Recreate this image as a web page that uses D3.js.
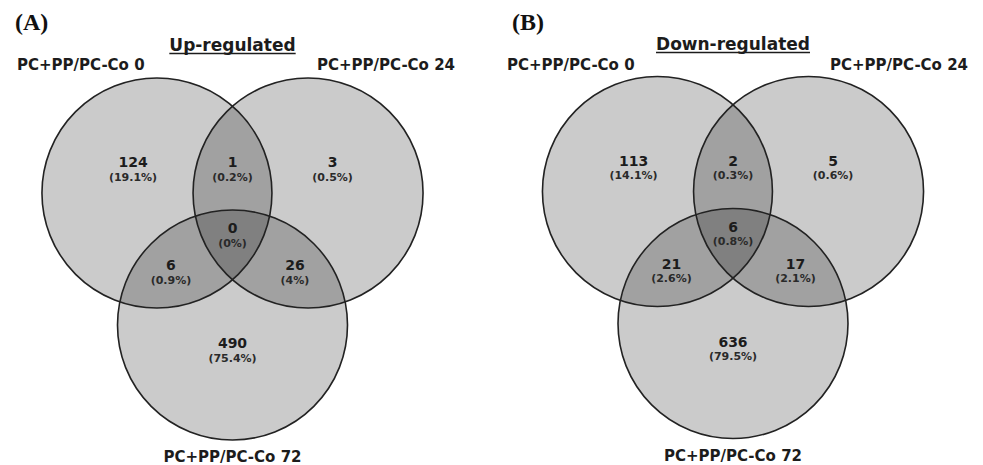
<!DOCTYPE html>
<html>
<head>
<meta charset="utf-8">
<script src="https://cdn.jsdelivr.net/npm/d3@7"></script>
<style>
  html, body { margin: 0; padding: 0; background: #fff; }
  svg { display: block; }
</style>
</head>
<body>
<svg id="chart" width="983" height="465"></svg>
<script>
// ---------------- data ----------------
const setNames = ["PC+PP/PC-Co 0", "PC+PP/PC-Co 24", "PC+PP/PC-Co 72"];
const panelLetters = ["(A)", "(B)"];
const panelTitles = ["Up-regulated", "Down-regulated"];
// regions: only0, only1, only2, 0&1, 0&2, 1&2, 0&1&2
const regionKeys = ["0", "1", "2", "0&1", "0&2", "1&2", "0&1&2"];
const upCounts = [124, 3, 490, 1, 6, 26, 0];
const downCounts = [113, 5, 636, 2, 21, 17, 6];

// ---------------- layout (unit = circle radius) ----------------
const circleUnits = [[-0.657, 0], [0.657, 0], [0, 1.148]];
const regionUnits = {
  "0": [-0.865, -0.222], "1": [0.87, -0.222], "2": [0, 1.348],
  "0&1": [0, -0.226], "0&2": [-0.535, 0.67], "1&2": [0.543, 0.67],
  "0&1&2": [0, 0.35]
};
const panels = [
  { ox: 232.5, oy: 193, r: 115, counts: upCounts,
    letterX: 15, titleY: 51, nameX: [17, 317], nameY: 70, bottomY: 462 },
  { ox: 733, oy: 191.5, r: 115, counts: downCounts,
    letterX: 512, titleY: 50, nameX: [507, 830], nameY: 70, bottomY: 461 }
];

const svg = d3.select("#chart");
const fmt = d3.format(".1~f");
const ink = "#1c1c1c";

panels.forEach((p, i) => {
  const x = d3.scaleLinear().domain([-1, 1]).range([p.ox - p.r, p.ox + p.r]);
  const y = d3.scaleLinear().domain([-1, 1]).range([p.oy - p.r, p.oy + p.r]);
  const g = svg.append("g");
  const total = d3.sum(p.counts);

  // translucent fills
  g.selectAll("circle.fill").data(circleUnits).join("circle")
    .attr("class", "fill")
    .attr("cx", d => x(d[0])).attr("cy", d => y(d[1]))
    .attr("r", x(1) - x(0))
    .attr("fill", "#000").attr("fill-opacity", 0.205)
    .attr("stroke", "none");
  // outlines
  g.selectAll("circle.line").data(circleUnits).join("circle")
    .attr("class", "line")
    .attr("cx", d => x(d[0])).attr("cy", d => y(d[1]))
    .attr("r", x(1) - x(0))
    .attr("fill", "none").attr("stroke", "#222").attr("stroke-width", 1.6);

  // region labels
  const regions = regionKeys.map((k, j) => ({ key: k, n: p.counts[j] }));
  const lg = g.selectAll("g.reg").data(regions).join("g").attr("class", "reg")
    .attr("transform", d => `translate(${x(regionUnits[d.key][0])},${y(regionUnits[d.key][1])})`);
  lg.append("text")
    .attr("text-anchor", "middle")
    .attr("font-family", "DejaVu Sans, sans-serif")
    .attr("font-weight", "bold").attr("font-size", 14)
    .attr("fill", ink)
    .text(d => d.n);
  lg.append("text")
    .attr("text-anchor", "middle").attr("y", 13.5)
    .attr("font-family", "DejaVu Sans, sans-serif")
    .attr("font-weight", "bold").attr("font-size", 11)
    .attr("fill", "#2a2a2a")
    .text(d => `(${fmt(d.n / total * 100)}%)`);

  // panel letter
  svg.append("text")
    .attr("x", p.letterX).attr("y", 30)
    .attr("font-family", "Liberation Serif, Times New Roman, serif")
    .attr("font-weight", "bold").attr("font-size", 24)
    .attr("fill", "#111")
    .text(panelLetters[i]);

  // title with underline
  const t = svg.append("text")
    .attr("x", p.ox).attr("y", p.titleY)
    .attr("text-anchor", "middle")
    .attr("font-family", "DejaVu Sans, sans-serif")
    .attr("font-weight", "bold").attr("font-size", 17)
    .attr("fill", ink)
    .text(panelTitles[i]);
  const w = t.node().getComputedTextLength();
  svg.append("line")
    .attr("x1", p.ox - w / 2).attr("x2", p.ox + w / 2)
    .attr("y1", p.titleY + 2.5).attr("y2", p.titleY + 2.5)
    .attr("stroke", ink).attr("stroke-width", 1.6);

  // set names
  [0, 1].forEach(s => {
    svg.append("text")
      .attr("x", p.nameX[s]).attr("y", p.nameY)
      .attr("font-family", "DejaVu Sans, sans-serif")
      .attr("font-weight", "bold").attr("font-size", 15)
      .attr("fill", ink)
      .text(setNames[s]);
  });
  svg.append("text")
    .attr("x", x(circleUnits[2][0])).attr("y", p.bottomY)
    .attr("text-anchor", "middle")
    .attr("font-family", "DejaVu Sans, sans-serif")
    .attr("font-weight", "bold").attr("font-size", 15)
    .attr("fill", ink)
    .text(setNames[2]);
});
</script>
</body>
</html>
